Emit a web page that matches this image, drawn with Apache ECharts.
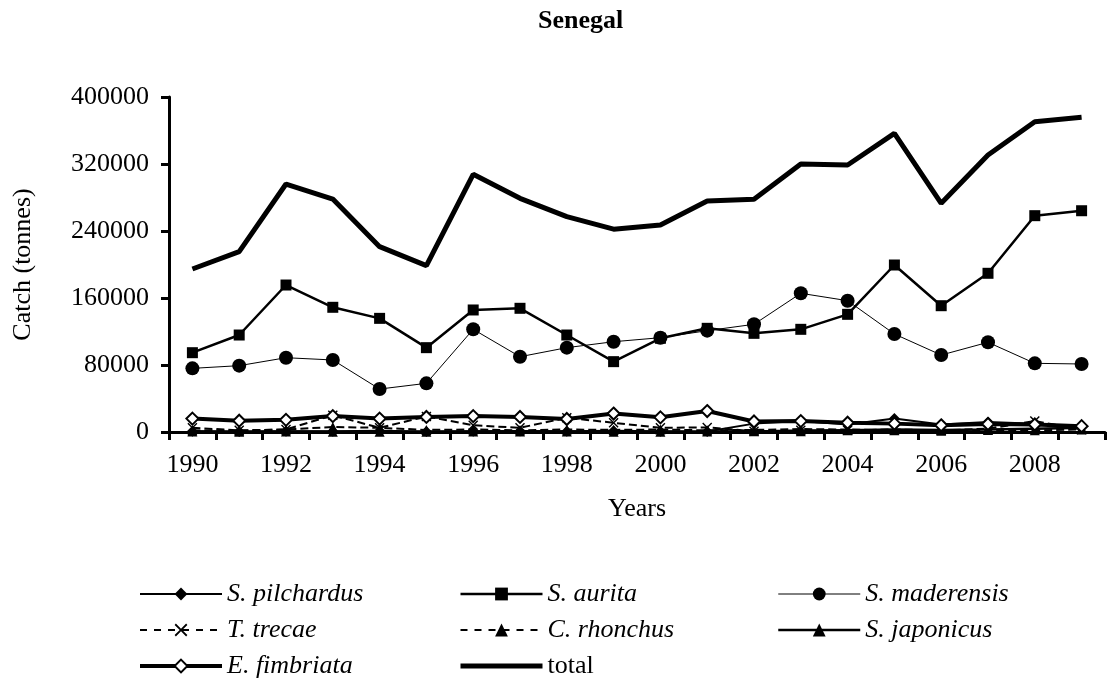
<!DOCTYPE html>
<html>
<head>
<meta charset="utf-8">
<script src="https://cdn.jsdelivr.net/npm/echarts@6/dist/echarts.min.js"></script>
<style>html,body{margin:0;padding:0;background:#fff;}#c{width:1110px;height:689px;}</style>
</head>
<body>
<div id="c"></div>
<script>
const years = ['1990','1991','1992','1993','1994','1995','1996','1997','1998','1999','2000','2001','2002','2003','2004','2005','2006','2007','2008','2009'];
const sPilchardus = [1000, 500, 800, 1000, 1500, 500, 1000, 1200, 800, 1500, 1000, 500, 10000, 13000, 9000, 16000, 9000, 12000, 10000, 6000];
const sAurita = [94700, 115800, 175500, 148900, 135700, 100700, 145700, 147700, 115800, 84000, 111900, 123800, 117800, 122600, 140500, 199400, 150800, 189500, 258300, 264200];
const sMaderensis = [76000, 79200, 88700, 86000, 51300, 58100, 122600, 89900, 100700, 107800, 112600, 121000, 128600, 165600, 156800, 117000, 91900, 107100, 82000, 81200];
const tTrecae = [5000, 2000, 3000, 20000, 5000, 18500, 8000, 5000, 17000, 11000, 5000, 5500, 1000, 2000, 2000, 3000, 2000, 4000, 13000, 3000];
const cRhonchus = [2000, 1500, 3000, 6000, 5000, 2500, 3000, 2000, 3000, 2500, 3000, 2000, 2500, 3500, 3000, 2000, 1500, 2500, 2000, 3000];
const sJaponicus = [500, 300, 500, 300, 400, 300, 500, 600, 500, 400, 300, 500, 800, 1000, 2000, 3000, 2500, 3000, 4000, 5000];
const eFimbriata = [16000, 13500, 14500, 19000, 16000, 18000, 19000, 18000, 15500, 22000, 17500, 25000, 12500, 13000, 11000, 10000, 8000, 9500, 9000, 7000];
const total = [194600, 215300, 296100, 278200, 221300, 198600, 307700, 279000, 257100, 242200, 247200, 275800, 277800, 320000, 318800, 356600, 273000, 330700, 370500, 375700];
const yTicks = [0, 80000, 160000, 240000, 320000, 400000];

const FONT = 'Liberation Serif';
const X_SYMBOL = 'path://M0,1L1,0L5,4L9,0L10,1L6,5L10,9L9,10L5,6L1,10L0,9L4,5Z';

const widths = {
  'S. pilchardus': 2, 'S. aurita': 2.5, 'S. maderensis': 1, 'T. trecae': 2,
  'C. rhonchus': 2, 'S. japonicus': 2.5, 'E. fimbriata': 4, 'total': 5
};
const dashed = { 'T. trecae': true, 'C. rhonchus': true };

function ser(name, data, symbol, size, extra) {
  const s = {
    name: name, type: 'line', data: data,
    symbol: symbol, symbolSize: size, showSymbol: symbol !== 'none',
    lineStyle: { color: '#000', width: widths[name], type: dashed[name] ? 'dashed' : 'solid' },
    itemStyle: { color: '#000', borderColor: '#000', borderWidth: 0 },
    emphasis: { disabled: true },
    animation: false, z: 2
  };
  return Object.assign(s, extra || {});
}

const italic = { fontStyle: 'italic', fontFamily: FONT, fontSize: 26, color: '#000' };
const normal = { fontStyle: 'normal', fontFamily: FONT, fontSize: 26, color: '#000' };

function legend(names, left) {
  return {
    orient: 'vertical', left: left, top: 576, itemWidth: 82, itemHeight: 16, itemGap: 10,
    textStyle: italic,
    data: names.map(n => {
      const d = {
        name: n,
        textStyle: n === 'total' ? normal : italic,
        lineStyle: { width: widths[n], type: dashed[n] ? [7, 7] : 'solid', color: '#000' }
      };
      if (n === 'total') d.itemStyle = { opacity: 0 };
      return d;
    }),
    selectedMode: false
  };
}

const chart = echarts.init(document.getElementById('c'), null, { renderer: 'canvas' });
chart.setOption({
  backgroundColor: '#fff',
  animation: false,
  title: {
    text: 'Senegal', left: 533, top: 3,
    textStyle: { fontFamily: FONT, fontWeight: 'bold', fontSize: 26, color: '#000' }
  },
  legend: [
    legend(['S. pilchardus', 'T. trecae', 'E. fimbriata'], 133),
    legend(['S. aurita', 'C. rhonchus', 'total'], 453),
    legend(['S. maderensis', 'S. japonicus'], 772)
  ],
  grid: { left: 169, right: 5, top: 97, bottom: 257, containLabel: false },
  xAxis: {
    type: 'category', data: years, boundaryGap: true,
    name: 'Years', nameLocation: 'middle', nameGap: 64,
    nameTextStyle: normal,
    axisLine: { lineStyle: { color: '#000', width: 3 } },
    axisTick: { show: true, inside: false, length: 8, interval: 0, lineStyle: { color: '#000', width: 3 } },
    axisLabel: { interval: 1, margin: 20, fontFamily: FONT, fontSize: 26, color: '#000' },
    splitLine: { show: false }
  },
  yAxis: {
    type: 'value', min: yTicks[0], max: yTicks[yTicks.length - 1], interval: yTicks[1] - yTicks[0],
    name: 'Catch (tonnes)', nameLocation: 'middle', nameGap: 133, nameRotate: 90,
    nameTextStyle: normal,
    axisLine: { show: true, lineStyle: { color: '#000', width: 3 } },
    axisTick: { show: true, inside: false, length: 8, lineStyle: { color: '#000', width: 3 } },
    axisLabel: { margin: 20, fontFamily: FONT, fontSize: 26, color: '#000', formatter: v => String(v) },
    splitLine: { show: false }
  },
  series: [
    ser('total', total, 'none', 0),
    ser('S. maderensis', sMaderensis, 'circle', 14),
    ser('S. aurita', sAurita, 'rect', 11),
    ser('C. rhonchus', cRhonchus, 'triangle', 10),
    ser('S. japonicus', sJaponicus, 'triangle', 10),
    ser('T. trecae', tTrecae, X_SYMBOL, 10),
    ser('S. pilchardus', sPilchardus, 'diamond', 11),
    ser('E. fimbriata', eFimbriata, 'diamond', 12,
      { itemStyle: { color: '#fff', borderColor: '#000', borderWidth: 2 } })
  ]
});
</script>
</body>
</html>
